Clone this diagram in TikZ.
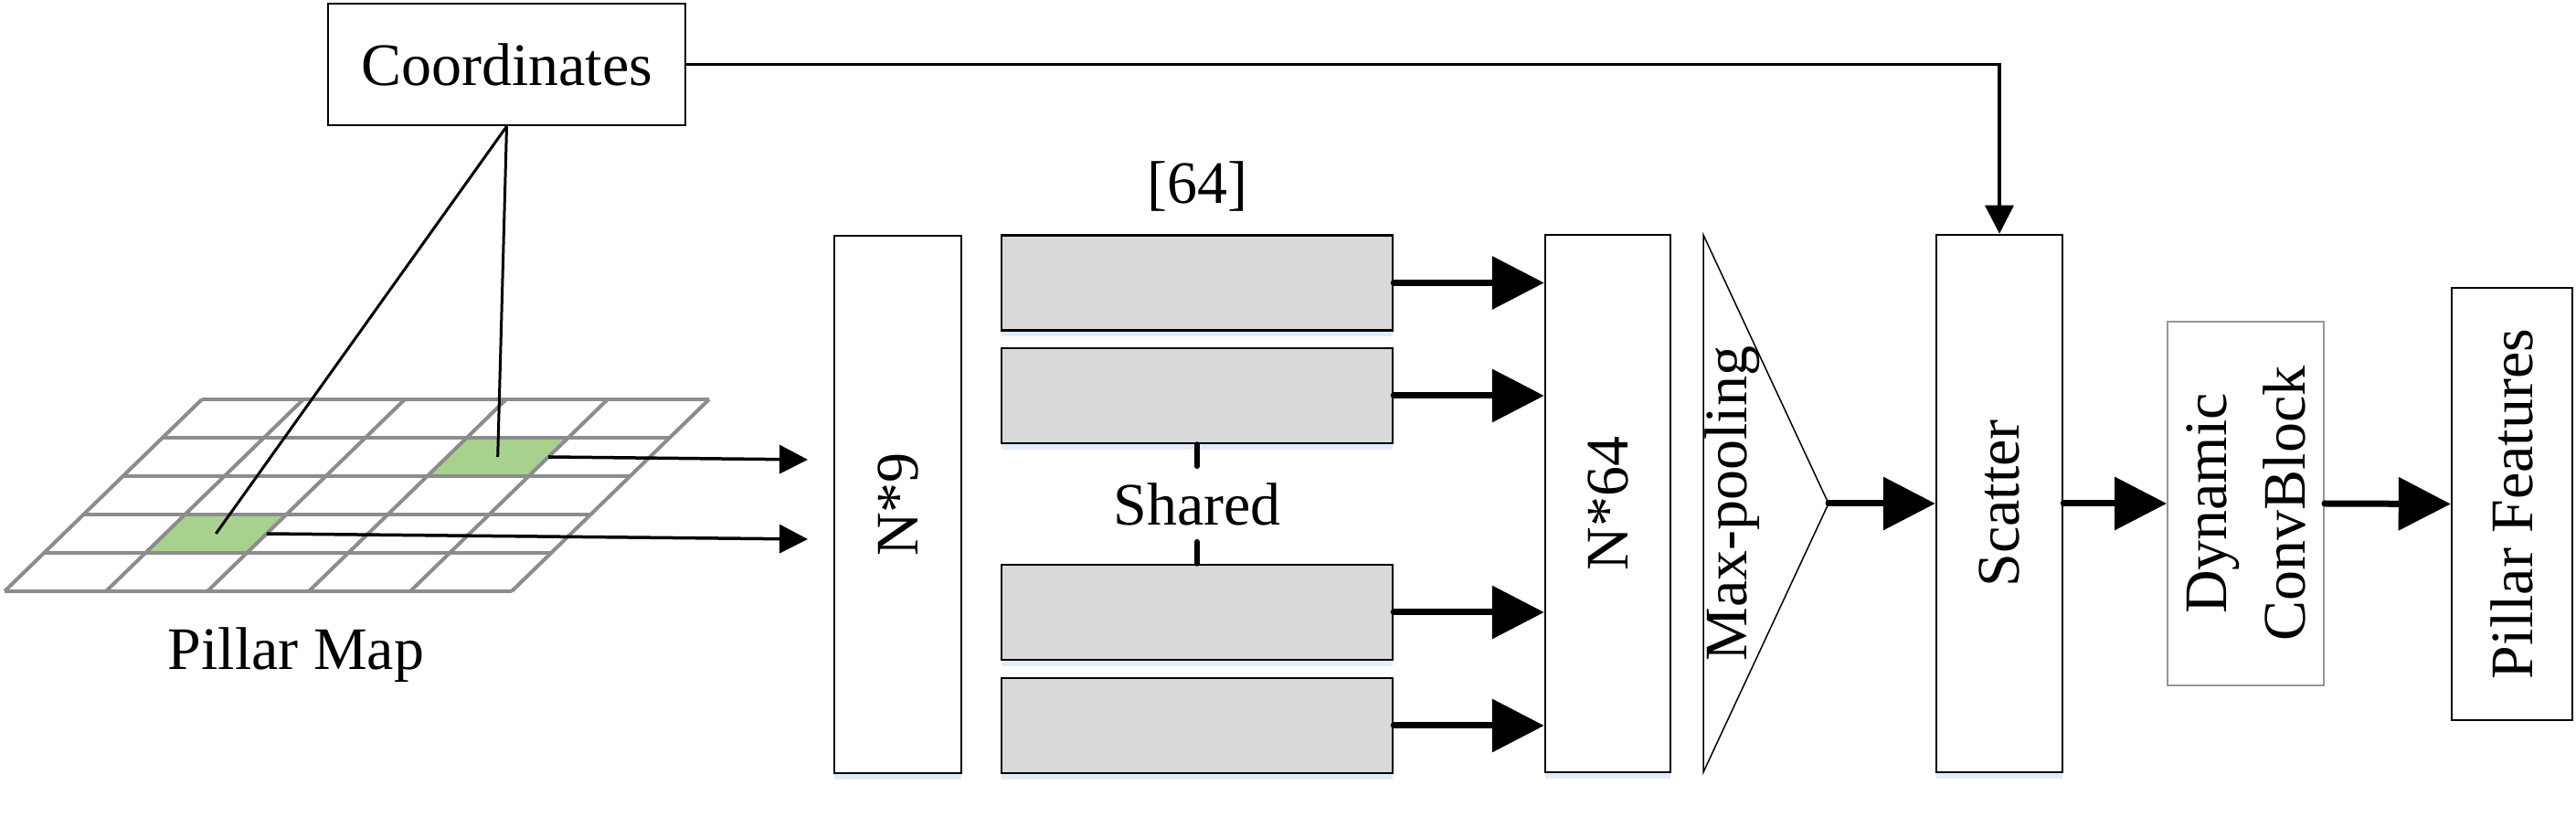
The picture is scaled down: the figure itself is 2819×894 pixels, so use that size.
\documentclass[tikz,border=0pt]{standalone}
\usepackage{fontspec}
\setmainfont{Liberation Serif}
\usetikzlibrary{arrows.meta,shadows}
\definecolor{boxgray}{RGB}{217,217,217}
\definecolor{cellgreen}{RGB}{169,209,142}
\definecolor{gridgray}{RGB}{140,140,140}
\definecolor{edgegray}{RGB}{150,150,150}
\definecolor{shadowblue}{RGB}{226,236,249}
\tikzset{
  block/.style={draw=black, line width=2.5bp, fill=white, inner sep=0pt},
  layerbox/.style={block, fill=boxgray, minimum width=428bp, minimum height=104bp},
  shadowed/.style={drop shadow={shadow xshift=0bp, shadow yshift=-7bp, fill=shadowblue, opacity=1}},
  gridline/.style={draw=gridgray, line width=4bp},
  thinarrow/.style={-{Triangle[length=31bp,width=31bp]}, line width=3.5bp},
  thickarrow/.style={-{Triangle[length=57bp,width=57bp]}, line width=7bp, line cap=round},
  sharedline/.style={line width=6bp, line cap=round},
}
\begin{document}
\begin{tikzpicture}[line join=miter, font=\fontsize{66bp}{86bp}\selectfont]
  \useasboundingbox (0bp,0bp) rectangle (2819bp,894bp);
%%
  % Node: Coordinates
  \node[block, minimum width=391bp, minimum height=133bp] (coord) at (554.5bp,823.5bp) {Coordinates};
  % Node: Pillar Map
\begin{scope}[shift={(5bp,247bp)}, xslant=1.02857, x=111bp, y=42bp]
  \fill[cellgreen] (3,3) rectangle (4,4);
  \fill[cellgreen] (1,1) rectangle (2,2);
  \foreach \i in {0,...,5} {
    \draw[gridline] (0,\i) -- (5,\i);
    \draw[gridline] (\i,0) -- (\i,5);
  }
  \coordinate (cellA) at (3.5,3.5);
  \coordinate (cellB) at (1.5,1.5);
  \coordinate (cellAout) at (4,3.5);
  \coordinate (cellBout) at (2,1.5);
\end{scope}
  \node[anchor=base] (pmap) at (324bp,161bp) {Pillar Map};
  \coordinate (inA) at (884bp,391bp);
  \coordinate (inB) at (884bp,304bp);
  % Node: N*9
  \node[block, shadowed, minimum width=139bp, minimum height=588bp] (n9) at (982.5bp,342bp) {};
  \node[rotate=90] (n9text) at (n9.center) {N*9};
  % Node: shared layers
  \node[anchor=base] (dim) at (1310bp,671bp) {[64]};
  \node[layerbox, shadowed] (fc1) at (1310bp,584.5bp) {};
  \node[layerbox, shadowed] (fc2) at (1310bp,461bp) {};
  \node[layerbox, shadowed] (fc3) at (1310bp,224bp) {};
  \node[layerbox, shadowed] (fc4) at (1310bp,100bp) {};
  \node[inner sep=18bp] (shared) at (1310bp,342.5bp) {Shared};
  % Node: N*64
  \node[block, shadowed, minimum width=137bp, minimum height=588bp] (n64) at (1759.5bp,343bp) {};
  \node[rotate=90] (n64text) at (n64.center) {N*64};
  % Node: Max-pooling
  \draw[line width=1.5bp, fill=white] (1864bp,637bp) -- (2001bp,343bp) -- (1864bp,49bp) -- cycle;
  \coordinate (pooltip) at (2001bp,343bp);
  \node[rotate=90] (pooltext) at (1896bp,343bp) {Max-pooling};
  % Node: Scatter
  \node[block, shadowed, minimum width=138bp, minimum height=588bp] (scatter) at (2188bp,343bp) {};
  \node[rotate=90] (scattertext) at (scatter.center) {Scatter};
  % Node: Dynamic ConvBlock
  \node[block, draw=edgegray, line width=2bp, minimum width=171bp, minimum height=398bp] (dyn) at (2457.5bp,343bp) {};
  \node[rotate=90, align=center] (dyntext) at (dyn.center) {Dynamic\\ConvBlock};
  % Node: Pillar Features
  \node[block, minimum width=132bp, minimum height=473bp] (feat) at (2749bp,342.5bp) {};
  \node[rotate=90] (feattext) at (feat.center) {Pillar Features};
%%
  % Edge: Coordinates -> Pillar Map
  \draw[line width=3bp] (coord.south) -- (cellA);
  \draw[line width=3bp] (coord.south) -- (cellB);
  % Edge: Pillar Map -> N*9
  \draw[thinarrow] (cellAout) -- (inA);
  \draw[thinarrow] (cellBout) -- (inB);
  % Edge: shared
  \draw[sharedline] (fc2.south) -- (shared.north);
  \draw[sharedline] (shared.south) -- (fc3.north);
  % Edge: layers -> N*64
  \draw[thickarrow] (fc1.east) -- (fc1.east -| n64.west);
  \draw[thickarrow] (fc2.east) -- (fc2.east -| n64.west);
  \draw[thickarrow] (fc3.east) -- (fc3.east -| n64.west);
  \draw[thickarrow] (fc4.east) -- (fc4.east -| n64.west);
  % Edge: Max-pooling -> Scatter
  \draw[thickarrow] (pooltip) -- (scatter.west);
  % Edge: Scatter -> Dynamic ConvBlock
  \draw[thickarrow] (scatter.east) -- (dyn.west);
  % Edge: Dynamic ConvBlock -> Pillar Features
  \draw[thickarrow] (dyn.east) -- (feat.west);
  % Edge: Coordinates -> Scatter
  \draw[thinarrow] (coord.east) -| (scatter.north);
%
\end{tikzpicture}
\end{document}
